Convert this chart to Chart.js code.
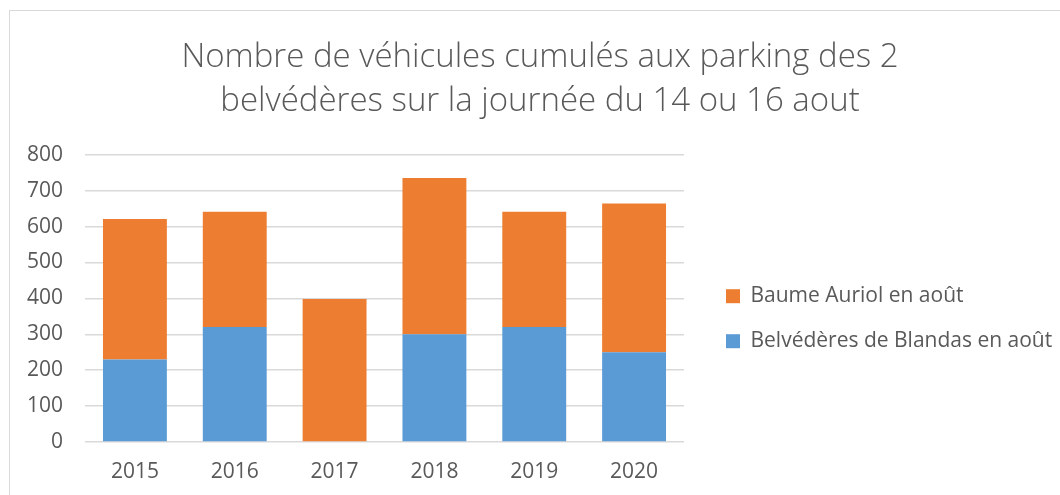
<!DOCTYPE html>
<html>
<head>
<meta charset="utf-8">
<script src="https://cdn.jsdelivr.net/npm/chart.js@4"></script>
<style>
  html, body { margin: 0; padding: 0; background: #fff; overflow: hidden; }
  #frame { position: absolute; left: 9px; top: 10px; width: 1200px; height: 600px; border: 1px solid #d9d9d9; }
  #wrap { position: absolute; left: 0; top: 0; width: 1060px; height: 495px; }
</style>
</head>
<body>
<div id="frame"></div>
<div id="wrap"><canvas id="chart"></canvas></div>
<script>
// Stacked bars, one per year
var years = ["2015", "2016", "2017", "2018", "2019", "2020"];
var blandas = [230, 320, 0, 300, 320, 250];
var auriol = [391, 321, 398, 435, 321, 414];
var yTicks = [0, 100, 200, 300, 400, 500, 600, 700, 800];

var txt = "#595959";
var font = "'Open Sans', sans-serif";

var context = document.getElementById("chart");
var chart = new Chart(context, {
  type: 'bar',
  data: {
    labels: years,
    datasets: [
      {
        label: "Belvédères de Blandas en août",
        backgroundColor: "#5b9bd5",
        data: blandas
      },
      {
        label: "Baume Auriol en août",
        backgroundColor: "#ed7d31",
        data: auriol
      }
    ]
  },
  options: {
    responsive: true,
    maintainAspectRatio: false,
    animation: false,
    categoryPercentage: 0.64,
    barPercentage: 1,
    layout: { padding: { left: 20, right: 0, top: 0, bottom: 0 } },
    plugins: {
      title: {
        display: true,
        text: ["Nombre de véhicules cumulés aux parking des 2", "belvédères sur la journée du 14 ou 16 aout"],
        color: txt,
        font: { family: font, size: 33, weight: 300, lineHeight: 1.33 },
        padding: { top: 36, bottom: 31 }
      },
      legend: {
        position: 'right',
        reverse: true,
        maxWidth: 358,
        // blank title only pushes the entries down
        title: { display: true, text: ' ', font: { size: 12 }, padding: { top: 64, bottom: 64 } },
        labels: {
          color: txt,
          font: { family: font, size: 21 },
          boxWidth: 14,
          boxHeight: 14,
          padding: 24
        }
      },
      tooltip: { enabled: false }
    },
    scales: {
      x: {
        stacked: true,
        grid: { display: false, drawTicks: false },
        border: { display: false },
        ticks: { color: txt, font: { family: font, size: 21 }, padding: 17 },
        afterFit: function (axis) { axis.height = 53; }
      },
      y: {
        stacked: true,
        min: 0,
        max: 800,
        afterBuildTicks: function (axis) { axis.ticks = yTicks.map(function (v) { return { value: v }; }); },
        grid: { color: "#d9d9d9", lineWidth: 1.5, drawTicks: false },
        border: { display: false },
        ticks: { color: txt, font: { family: font, size: 21 }, padding: 22 },
        afterFit: function (axis) { axis.width = 65; }
      },
      // empty spacer between plot and legend
      gap: {
        type: 'linear',
        position: 'right',
        display: true,
        grid: { display: false },
        border: { display: false },
        ticks: { display: false },
        afterFit: function (axis) { axis.width = 18; }
      }
    }
  }
});
</script>
</body>
</html>
